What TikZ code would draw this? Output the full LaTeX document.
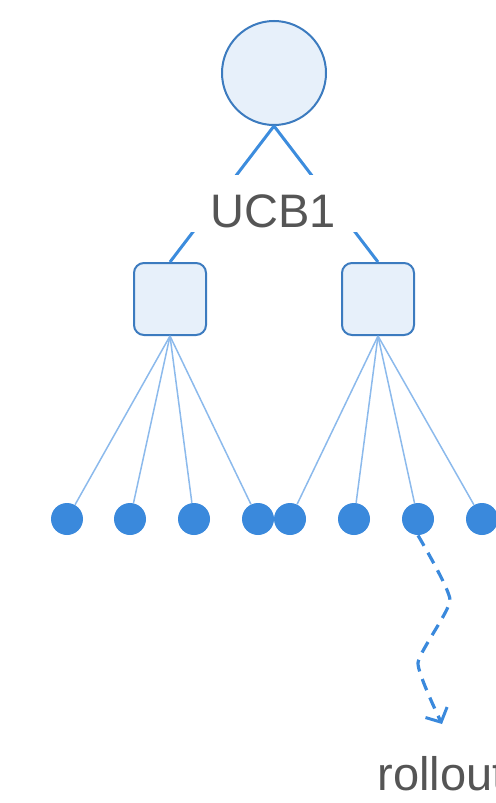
\documentclass[tikz,border=0pt]{standalone}
\usepackage{fontspec}
\setmainfont{Liberation Sans}
\usetikzlibrary{arrows.meta}
\definecolor{nodefill}{HTML}{E7F0FA}
\definecolor{nodeedge}{HTML}{3C7BBF}
\definecolor{edgeblue}{HTML}{3C8CDD}
\definecolor{thinblue}{HTML}{8CBAEC}
\definecolor{leafblue}{HTML}{3A89DC}
\definecolor{labelgray}{HTML}{555555}
\tikzset{
  rootnode/.style={circle, draw=nodeedge, fill=nodefill, line width=1pt, minimum size=52pt, inner sep=0pt},
  actionnode/.style={rectangle, rounded corners=5pt, draw=nodeedge, fill=nodefill, line width=1pt, minimum size=36pt, inner sep=0pt},
  leafnode/.style={circle, fill=leafblue, minimum size=16pt, inner sep=0pt},
  thickedge/.style={draw=edgeblue, line width=1.5pt},
  thinedge/.style={draw=thinblue, line width=0.75pt},
  rolloutpath/.style={draw=leafblue, line width=1.6pt, dash pattern=on 6pt off 4pt, -{Straight Barb[length=5.5pt,width=12pt,line width=1.5pt]}},
  textlabel/.style={text=labelgray, font=\fontsize{23.5}{28}\selectfont, inner sep=0pt}
}
\begin{document}
\begin{tikzpicture}[x=0.5pt, y=-0.5pt]
  \useasboundingbox (0,0) rectangle (495,803);

  % tree nodes
  \node[rootnode] (root) at (274,73) {};
  \node[actionnode] (boxL) at (170,299) {};
  \node[actionnode] (boxR) at (378,299) {};

  \foreach \i/\x in {1/67, 2/130, 3/194, 4/258, 5/290, 6/354, 7/418, 8/482}
    \node[leafnode] (leaf\i) at (\x,519) {};

  % root to action edges
  \draw[thickedge] (root.south) -- (boxL.north);
  \draw[thickedge] (root.south) -- (boxR.north);

  % selection rule label, masking the edges behind it
  \node[textlabel, fill=white, minimum width=84pt, text height=26pt, text depth=2.5pt] (ucb) at (273,203.5) {UCB1};

  % action to leaf edges
  \foreach \i in {1,2,3,4}
    \draw[thinedge] (boxL.south) -- (leaf\i);
  \foreach \i in {5,6,7,8}
    \draw[thinedge] (boxR.south) -- (leaf\i);

  % rollout trajectory
  \coordinate (w1) at (450,600);
  \coordinate (w2) at (418,663);
  \coordinate (w3) at (442,724);
  \draw[rolloutpath] plot[smooth, tension=0.3] coordinates {(leaf7.south) (w1) (w2) (w3)};

  \node[textlabel, anchor=base west] (rollout) at (377,790) {rollout};
\end{tikzpicture}
\end{document}
